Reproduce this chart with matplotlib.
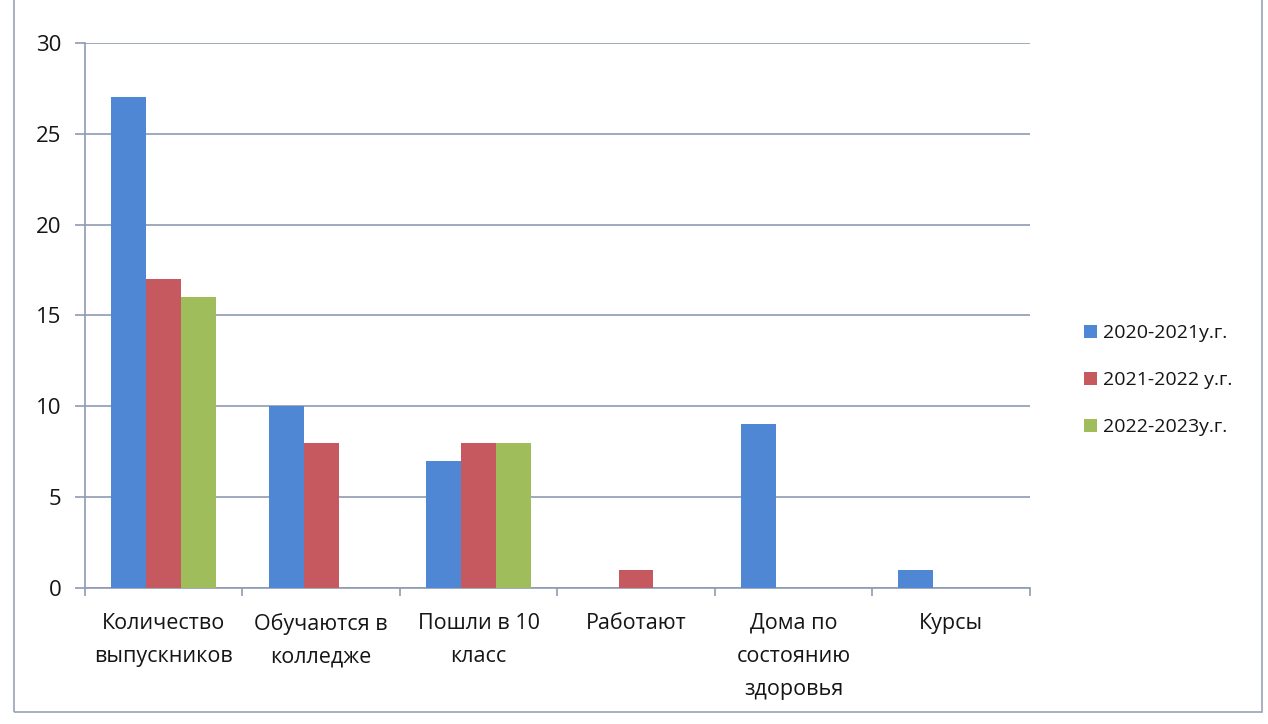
import numpy as np
import matplotlib
matplotlib.use('Agg')
import matplotlib.pyplot as plt
from matplotlib.patches import Rectangle

plt.rcParams['font.family'] = ['Open Sans', 'DejaVu Sans']

categories = ['Количество\nвыпускников', 'Обучаются в\nколледже', 'Пошли в 10\nкласс',
              'Работают', 'Дома по\nсостоянию\nздоровья', 'Курсы']
series_names = ['2020-2021у.г.', '2021-2022 у.г.', '2022-2023у.г.']
vals_2021 = [27, 10, 7, 0, 9, 1]
vals_2022 = [17, 8, 8, 1, 0, 0]
vals_2023 = [16, 0, 8, 0, 0, 0]
yticks = [0, 5, 10, 15, 20, 25, 30]

colors = ['#4f87d4', '#c65860', '#a0bd5c']
grid_col = '#8e9bb0'
text_col = '#151515'

fig = plt.figure(figsize=(12.68, 7.24), dpi=100)
ax = fig.add_axes([0.067, 0.188, 0.745, 0.7527])

x = np.arange(len(categories))
w = 0.222
for i, (vals, name) in enumerate(zip([vals_2021, vals_2022, vals_2023], series_names)):
    ax.bar(x + (i - 1) * w, vals, width=w, color=colors[i], label=name, linewidth=0, zorder=3)

ax.set_xlim(-0.5, len(categories) - 0.5)
ax.set_ylim(0, 30)
ax.set_yticks(yticks)
ax.yaxis.grid(True, color=grid_col, linewidth=1.2, zorder=0)

ax.set_xticks(x)
ax.set_xticklabels(categories, fontsize=15.5, linespacing=1.75, color=text_col)
ax.set_xticks(np.arange(-0.5, len(categories)), minor=True)
ax.tick_params(axis='x', which='major', length=0, pad=18)
ax.tick_params(axis='x', which='minor', length=6, color=grid_col, width=1.2)
ax.tick_params(axis='y', length=7, color=grid_col, width=1.2, pad=10, labelsize=16, labelcolor=text_col)

for s in ['top', 'right']:
    ax.spines[s].set_visible(False)
for s in ['left', 'bottom']:
    ax.spines[s].set_color(grid_col)
    ax.spines[s].set_linewidth(1.2)

leg = fig.legend(loc='center left', bbox_to_anchor=(0.841, 0.475), frameon=False,
                 fontsize=14, handlelength=0.65, handleheight=0.65, handletextpad=0.35,
                 labelspacing=1.5, labelcolor=text_col)

# outer chart frame
fig.patches.append(Rectangle((14 / 1268, 12 / 724), 1248 / 1268, 0.99, transform=fig.transFigure,
                             fill=False, edgecolor='#9aa3b5', linewidth=1.2))

fig.savefig('out.png', dpi=100)
